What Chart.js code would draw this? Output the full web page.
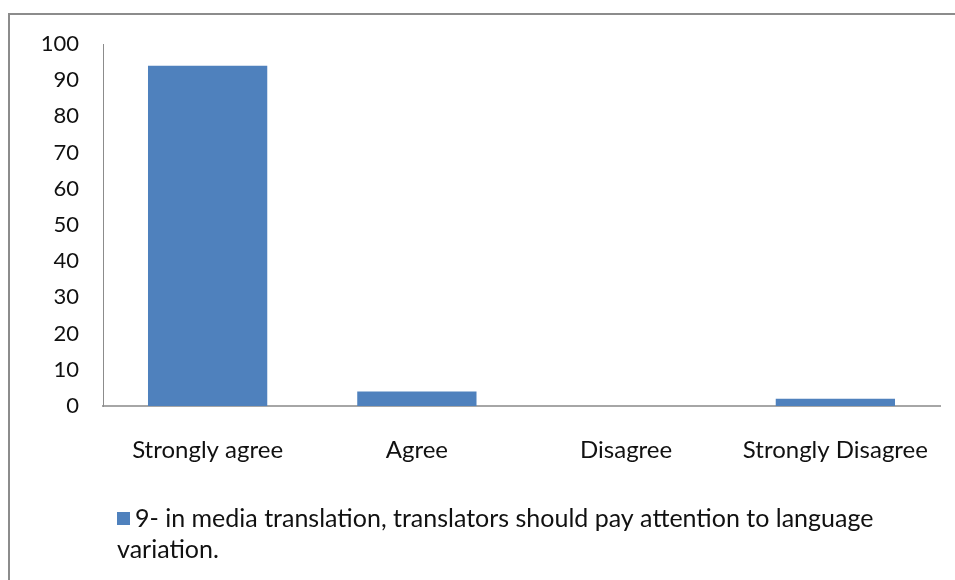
<!DOCTYPE html>
<html>
<head>
<meta charset="utf-8">
<script src="https://cdn.jsdelivr.net/npm/chart.js@4/dist/chart.umd.min.js"></script>
<style>
  html, body { margin: 0; padding: 0; background: #fff; overflow: hidden; }
  #wrap { position: relative; width: 955px; height: 580px; }
  #frame {
    position: absolute; left: 8px; top: 13px; width: 1000px; height: 700px;
    border: 2px solid #8c8c8c; box-sizing: border-box;
  }
  #my-chart { position: absolute; left: 0; top: 0; }
</style>
</head>
<body>
<div id="wrap">
  <div id="frame"></div>
  <canvas id="my-chart" width="955" height="580"></canvas>
</div>
<script>
'use strict';

// ******** DATA *******
let answers = ['Strongly agree', 'Agree', 'Disagree', 'Strongly Disagree'];
let percents = [94, 4, 0, 2];
let seriesName = '9- in media translation, translators should pay attention to language variation.';
let yTicks = [0, 10, 20, 30, 40, 50, 60, 70, 80, 90, 100];

let barBlue = '#4f81bd';
let fontName = 'Lato, "Open Sans", sans-serif';

let ctx = document.getElementById('my-chart');

// legend below the plot, wrapped over two lines like an office chart
let wrappedLegend = {
  id: 'wrappedLegend',
  afterDraw(chart) {
    let c = chart.ctx;
    let ds = chart.data.datasets[0];
    let boxX = 117;
    let textX = 135;
    let firstLine = 519;
    let lineGap = 31;
    let maxWidth = 790;

    c.save();
    c.font = '25px ' + fontName;
    c.fillStyle = ds.backgroundColor;
    c.fillRect(boxX, firstLine - 7, 13, 13);

    // word wrap
    let words = ds.label.split(' ');
    let lines = [];
    let line = '';
    for (let i = 0; i < words.length; i++) {
      let test = line ? line + ' ' + words[i] : words[i];
      if (c.measureText(test).width > maxWidth && line) {
        lines.push(line);
        line = words[i];
      } else {
        line = test;
      }
    }
    lines.push(line);

    c.fillStyle = '#111';
    c.textBaseline = 'middle';
    for (let i = 0; i < lines.length; i++) {
      c.fillText(lines[i], i === 0 ? textX : 117, firstLine + i * lineGap);
    }
    c.restore();
  }
};

let chartObject = {
  type: 'bar',
  data: {
    labels: answers,
    datasets: [{
      label: seriesName,
      data: percents,
      backgroundColor: barBlue,
      borderWidth: 0,
      categoryPercentage: 1,
      barPercentage: 0.57
    }]
  },
  options: {
    responsive: false,
    animation: false,
    layout: {
      padding: { left: 0, top: 44, right: 15, bottom: 114 }
    },
    plugins: {
      legend: { display: false },
      tooltip: { enabled: false }
    },
    scales: {
      x: {
        grid: { display: false },
        border: { display: true, color: '#a6a6a6', width: 2 },
        ticks: {
          color: '#111',
          font: { family: fontName, size: 24 },
          padding: 22,
          maxRotation: 0
        },
        afterFit(scale) { scale.height = 60; }
      },
      y: {
        min: 0,
        max: 100,
        grid: { display: false },
        border: { display: true, color: '#8c8c8c', width: 1 },
        afterBuildTicks(scale) {
          scale.ticks = yTicks.map(function (v) { return { value: v }; });
        },
        ticks: {
          color: '#111',
          font: { family: fontName, size: 22 },
          padding: 16
        },
        afterFit(scale) { scale.width = 103; }
      }
    }
  },
  plugins: [wrappedLegend]
};

const myChart = new Chart(ctx, chartObject);
</script>
</body>
</html>
